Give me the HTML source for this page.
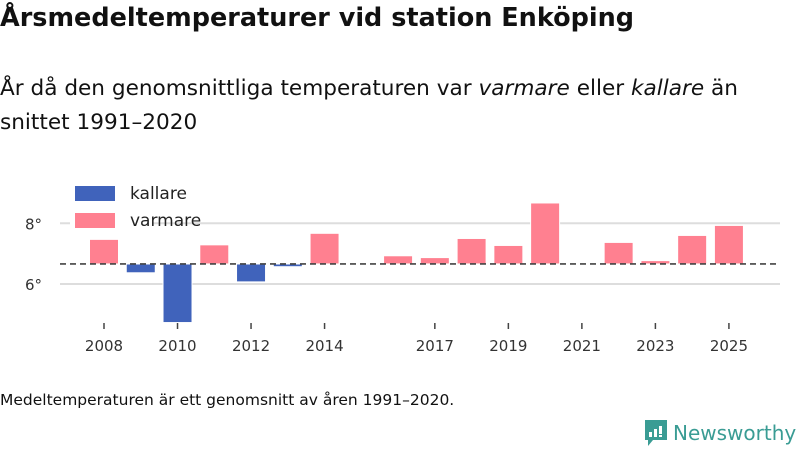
<!DOCTYPE html>
<html><head><meta charset="utf-8"><style>
body{margin:0;width:800px;height:450px;background:#fff;font-family:"DejaVu Sans","Liberation Sans",sans-serif;color:#111;overflow:hidden;position:relative}
.t{position:absolute;left:0;top:3px;font-size:25.5px;font-weight:bold;white-space:nowrap}
.s{position:absolute;left:0;top:72px;font-size:21.6px;line-height:34px;width:790px}
.f{position:absolute;left:0;top:391px;font-size:15.5px;white-space:nowrap}
.logo{position:absolute;left:645px;top:420px;font-size:20px;color:#3a9c94;display:flex;align-items:center;gap:6px}
</style></head><body>
<div class="t">Årsmedeltemperaturer vid station Enköping</div>
<div class="s">År då den genomsnittliga temperaturen var <i>varmare</i> eller <i>kallare</i> än<br>snittet 1991–2020</div>
<svg id="c" width="800" height="450" style="position:absolute;left:0;top:0"></svg>
<div class="f">Medeltemperaturen är ett genomsnitt av åren 1991–2020.</div>
<div class="logo"><svg width="22" height="26" viewBox="0 0 22 26"><path d="M0 0H22V20H8L3 26V20H0Z" fill="#3a9c94"/><rect x="4" y="12" width="3" height="5" fill="#fff"/><rect x="9" y="9" width="3" height="8" fill="#fff"/><rect x="14" y="6" width="3" height="8" fill="#fff"/><rect x="14" y="15" width="3" height="2" fill="#fff"/></svg><span>Newsworthy</span></div>
<script>
const years=[2008,2009,2010,2011,2012,2013,2014,2016,2017,2018,2019,2020,2022,2023,2024,2025];
const temps=[7.47,6.37,4.73,7.29,6.07,6.57,7.67,6.93,6.87,7.50,7.27,8.67,7.37,6.77,7.60,7.93];
const baseline=6.66;
const yTicks=[6,8];
const xTicks=[2008,2010,2012,2014,2017,2019,2021,2023,2025];
const ns="http://www.w3.org/2000/svg",svg=document.getElementById('c');
const x=y=>104+(y-2008)*36.76, yS=v=>223.3-(v-8)*30.35;
function mk(t,a){const e=document.createElementNS(ns,t);for(const k in a)e.setAttribute(k,a[k]);svg.appendChild(e);return e;}
yTicks.forEach(v=>{
 const g=mk('line',{x1:60,x2:780,y1:yS(v),y2:yS(v),stroke:'#ddd','stroke-width':2});
 
 
 const t=mk('text',{x:42,y:yS(v)+6,'text-anchor':'end','font-size':15,fill:'#333','font-family':'DejaVu Sans, sans-serif'});t.textContent=v+'°';
 
 
});
years.forEach((yr,i)=>{
 const v=temps[i],warm=v>=baseline,y0=yS(baseline),y1=yS(v);
 const r=mk('rect',{x:x(yr)-14.5,y:Math.min(y0,y1),width:29,height:Math.max(1,Math.abs(y1-y0)),fill:warm?'#ff8090':'#4063bb',stroke:'#fff','stroke-width':1});
 
 
});
const d=mk('line',{x1:60,x2:780,y1:yS(baseline),y2:yS(baseline),stroke:'#444','stroke-width':1.6,'stroke-dasharray':'6,4'});


xTicks.forEach(yr=>{
 const l=mk('line',{x1:x(yr),x2:x(yr),y1:323,y2:329,stroke:'#444','stroke-width':1.5});
 
 
 const t=mk('text',{x:x(yr),y:351,'text-anchor':'middle','font-size':15,fill:'#333','font-family':'DejaVu Sans, sans-serif'});t.textContent=yr;
 
 
});
const bg=mk('rect',{x:70,y:180,width:82,height:54,fill:'#fff'});


[['kallare','#4063bb',186],['varmare','#ff8090',213]].forEach(([n,c,yy])=>{
 const r=mk('rect',{x:75,y:yy,width:40,height:15,fill:c});
 
 
 const t=mk('text',{x:130,y:yy+13,'font-size':17,fill:'#222','font-family':'DejaVu Sans, sans-serif'});t.textContent=n;
 
 
});
</script>
</body></html>
